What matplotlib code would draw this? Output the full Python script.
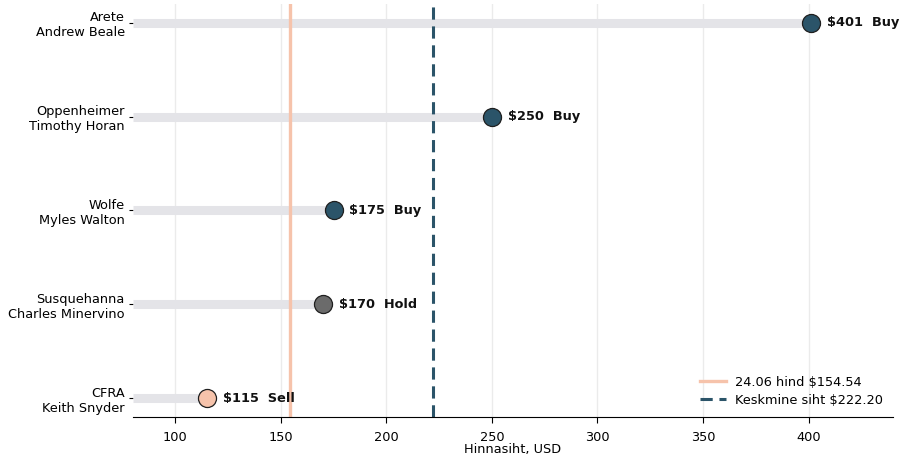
import matplotlib.pyplot as plt
import numpy as np

firms = ["Arete\nAndrew Beale", "Oppenheimer\nTimothy Horan", "Wolfe\nMyles Walton",
         "Susquehanna\nCharles Minervino", "CFRA\nKeith Snyder"]
targets = [401, 250, 175, 170, 115]
ratings = ["Buy", "Buy", "Buy", "Hold", "Sell"]
price = 154.54
mean_target = 222.20

rating_colors = {"Buy": "#2b5469", "Hold": "#6b6b6b", "Sell": "#f6c3ab"}

fs = 9.3
fig = plt.figure(figsize=(9.07, 4.58), dpi=100)
ax = fig.add_axes([0.1466, 0.0895, 0.838, 0.902])

xmin, xmax = 80, 440
y = np.arange(len(firms))[::-1]

ax.grid(axis="x", color="#ebebeb", linewidth=1, zorder=0)
ax.set_axisbelow(True)

for yi, t, r in zip(y, targets, ratings):
    ax.plot([xmin, t], [yi, yi], color="#e4e4e8", linewidth=6.5, solid_capstyle="butt", zorder=1)
    ax.plot(t, yi, "o", markersize=13, markerfacecolor=rating_colors[r],
            markeredgecolor="#1f1f1f", markeredgewidth=0.9, zorder=4)
    ax.text(t + 7.5, yi, f"${t}  {r}", va="center", ha="left", fontsize=fs,
            fontweight="bold", color="#111111", zorder=5)

ax.axvline(price, color="#f6c3ab", linewidth=2.4, zorder=2, label=f"24.06 hind ${price:.2f}")
ax.axvline(mean_target, color="#2b5469", linewidth=2.2, linestyle=(0, (4, 2.2)), zorder=2,
           label=f"Keskmine siht ${mean_target:.2f}")

ax.set_xlim(xmin, xmax)
ax.set_ylim(-0.2, 4.2)
ax.set_yticks(y)
ax.set_yticklabels(firms, fontsize=fs)
ax.set_xticks([100, 150, 200, 250, 300, 350, 400])
ax.tick_params(axis="x", labelsize=fs, length=4, pad=6)
ax.tick_params(axis="y", length=3, pad=3)
ax.set_xlabel("Hinnasiht, USD", fontsize=fs, labelpad=-1)

for s in ["top", "right", "left"]:
    ax.spines[s].set_visible(False)

ax.legend(loc="lower right", frameon=False, fontsize=fs, handlelength=2.0,
          handletextpad=0.7, borderaxespad=0.4, labelspacing=0.4)

fig.savefig("out.png", dpi=100)
